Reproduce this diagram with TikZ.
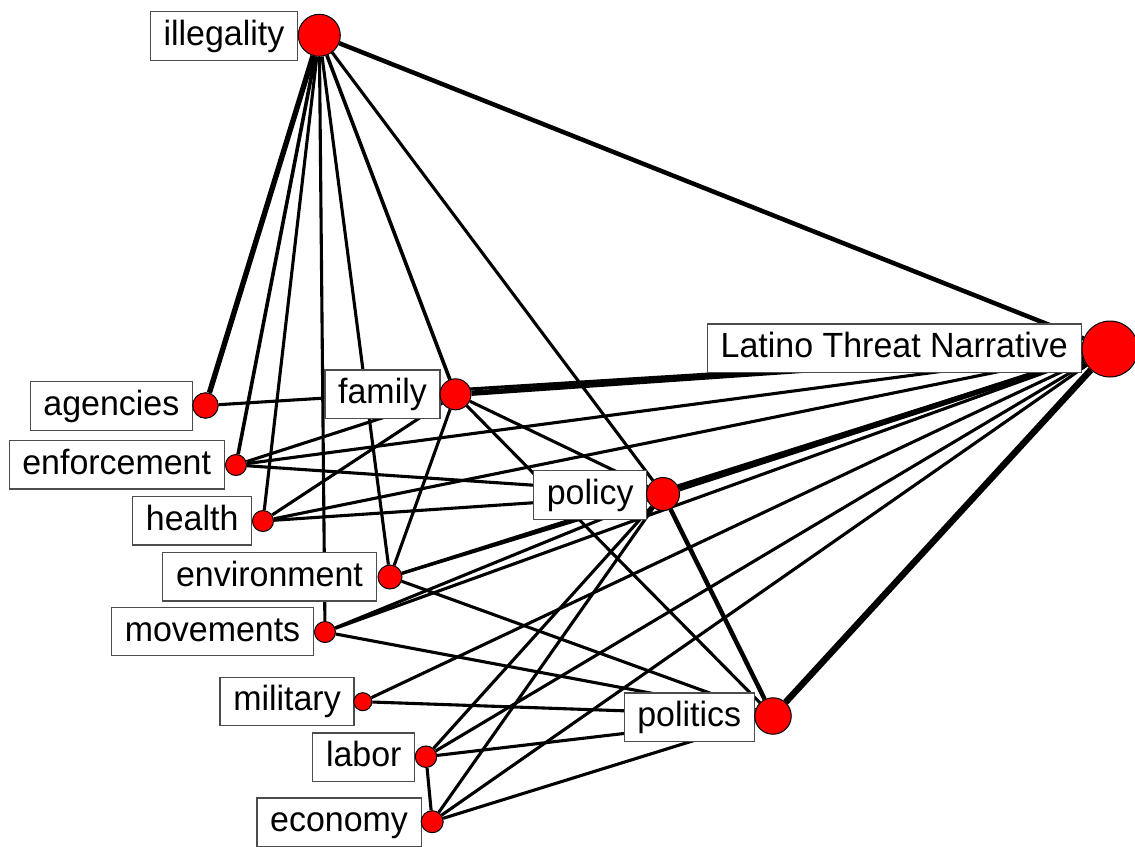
\documentclass[tikz,border=0pt]{standalone}
\usepackage{fontspec}
\setmainfont[FakeStretch=0.97]{Liberation Sans}
\pgfdeclarelayer{edgelayer}
\pgfdeclarelayer{boxlayer}
\pgfsetlayers{edgelayer,boxlayer,main}
\begin{document}
\begin{tikzpicture}[x=1pt,y=-1pt,
  lbl/.style={draw=black!70, line width=1.2pt, fill=white, inner xsep=13.2pt, inner ysep=8.75pt,
              text height=25pt, text depth=6pt, font=\fontsize{35}{40}\selectfont},
  dot/.style={circle, fill=red, draw=black, line width=1pt, inner sep=0pt},
  ln/.style={line width=3.1pt, black},
  lnb/.style={line width=3.6pt, black},
  lnc/.style={line width=4.5pt, black},
  lnd/.style={line width=5.4pt, black},
  lne/.style={line width=6.5pt, black}]
\useasboundingbox (0,0) rectangle (1135,846);

% nodes (circles)
\node[dot, minimum size=42pt] (ill) at (319.3,35.3) {};
\node[dot, minimum size=56pt] (ltn) at (1110,349) {};
\node[dot, minimum size=31pt] (fam) at (455.5,394.3) {};
\node[dot, minimum size=25.5pt] (age) at (205.5,405.5) {};
\node[dot, minimum size=21pt] (enf) at (236,465) {};
\node[dot, minimum size=21pt] (hea) at (263,521) {};
\node[dot, minimum size=24pt] (env) at (390,577) {};
\node[dot, minimum size=21pt] (mov) at (325,632) {};
\node[dot, minimum size=33pt] (pol) at (663,494) {};
\node[dot, minimum size=36.5pt] (pit) at (773,716) {};
\node[dot, minimum size=18pt] (mil) at (362.8,701.7) {};
\node[dot, minimum size=21.5pt] (lab) at (426,756.7) {};
\node[dot, minimum size=22pt] (eco) at (432.2,821.7) {};

% labels
\begin{pgfonlayer}{boxlayer}
\node[lbl] (l-ill) at (223.9,36) {illegality};
\node[lbl] (l-ltn) at (894.3,348.2) {Latino Threat Narrative};
\node[lbl] (l-fam) at (382.5,394.2) {family};
\node[lbl] (l-age) at (111.4,405.9) {agencies};
\node[lbl] (l-enf) at (116.7,464.7) {enforcement};
\node[lbl] (l-hea) at (192.2,520.7) {health};
\node[lbl] (l-env) at (269.5,576.8) {environment};
\node[lbl] (l-mov) at (212.5,631.5) {movements};
\node[lbl] (l-mil) at (287,701.4) {military};
\node[lbl] (l-lab) at (363.8,757.2) {labor};
\node[lbl] (l-eco) at (339.1,822.2) {economy};
\node[lbl] (l-pit) at (689.2,717.2) {politics};
\node[lbl] (l-pol) at (590.2,494.9) {policy};
\end{pgfonlayer}

% connectors
\begin{pgfonlayer}{edgelayer}
\draw[lnd] (ill) -- (age);
\draw[lnb] (ill) -- (enf);
\draw[ln] (ill) -- (hea);
\draw[ln] (ill) -- (mov);
\draw[ln] (ill) -- (env);
\draw[lnb] (ill) -- (fam);
\draw[ln] (ill) -- (pol);
\draw[lnc] (ill) -- (ltn);

\draw[ln] (ltn) -- (age);
\draw[lnd] (ltn) -- (fam);
\draw[ln] (ltn) -- (enf);
\draw[ln] (ltn) -- (hea);
\draw[lnd] (ltn) -- (pol);
\draw[ln] (ltn) -- (env);
\draw[ln] (ltn) -- (mov);
\draw[ln] (ltn) -- (mil);
\draw[ln] (ltn) -- (lab);
\draw[ln] (ltn) -- (eco);
\draw[lne] (ltn) -- (pit);

\draw[ln] (fam) -- (enf);
\draw[ln] (fam) -- (hea);
\draw[ln] (fam) -- (env);
\draw[ln] (fam) -- (pol);
\draw[ln] (fam) -- (pit);

\draw[ln] (enf) -- (pol);
\draw[ln] (hea) -- (pol);
\draw[ln] (env) -- (pol);
\draw[ln] (env) -- (pit);
\draw[ln] (mov) -- (pol);
\draw[ln] (mov) -- (pit);
\draw[ln] (mil) -- (pit);
\draw[ln] (lab) -- (eco);
\draw[ln] (lab) -- (pol);
\draw[ln] (lab) -- (pit);
\draw[ln] (eco) -- (pol);
\draw[ln] (eco) -- (pit);
\draw[lnc] (pol) -- (pit);
\end{pgfonlayer}
\end{tikzpicture}
\end{document}
